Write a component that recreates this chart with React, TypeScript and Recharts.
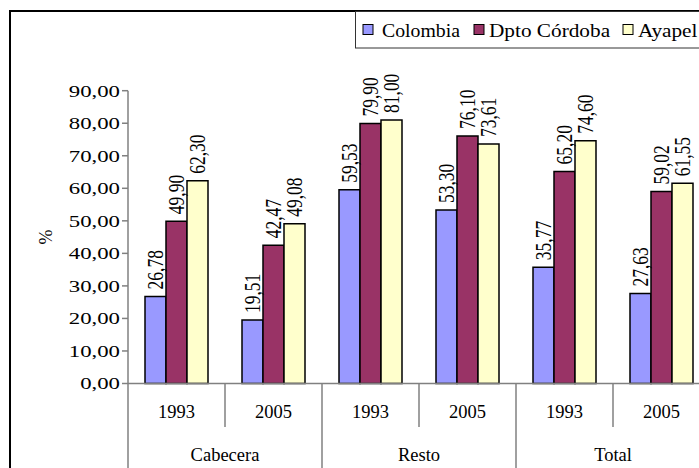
import React from 'react'
import { BarChart, Bar, XAxis, YAxis, Legend, LabelList, Label } from 'recharts'

const years = ['1993', '2005', '1993', '2005', '1993', '2005']
const zones = ['Cabecera', 'Cabecera', 'Resto', 'Resto', 'Total', 'Total']
const colombia = [26.78, 19.51, 59.53, 53.3, 35.77, 27.63]
const cordoba = [49.9, 42.47, 79.9, 76.1, 65.2, 59.02]
const ayapel = [62.3, 49.08, 81.0, 73.61, 74.6, 61.55]
const yTicks = [0, 10, 20, 30, 40, 50, 60, 70, 80, 90]

const series = [
  { key: 'colombia', name: 'Colombia', color: '#9999FF' },
  { key: 'cordoba', name: 'Dpto Córdoba', color: '#993366' },
  { key: 'ayapel', name: 'Ayapel', color: '#FFFFCC' },
]

const data = years.map((year, i) => ({
  year,
  zone: zones[i],
  colombia: colombia[i],
  cordoba: cordoba[i],
  ayapel: ayapel[i],
}))

const FONT = '"Liberation Serif", "Times New Roman", serif'
const fmt = (v: number) => v.toFixed(2).replace('.', ',')
const BAND = 97
const AXIS_GREY = '#808080'

function YTick(props: any) {
  const { x, y, payload } = props
  return (
    <text
      transform={`translate(${x},${y}) scale(1.38,1)`}
      textAnchor="end"
      dominantBaseline="central"
      fontFamily={FONT}
      fontSize={16.5}
      fill="#000"
    >
      {fmt(payload.value)}
    </text>
  )
}

function XTick(props: any) {
  const { x, payload, index } = props
  const i = payload?.index ?? index
  const axisY = 383.5
  const left = x - BAND / 2
  const even = i % 2 === 0
  return (
    <g>
      <line x1={left} x2={left} y1={axisY} y2={even ? 520 : 427} stroke={AXIS_GREY} strokeWidth={1.5} />
      <text x={x} y={412} textAnchor="middle" dominantBaseline="central" fontFamily={FONT} fontSize={18.5} fill="#000">
        {payload.value}
      </text>
      {even && (
        <text x={x + BAND / 2} y={455} textAnchor="middle" dominantBaseline="central" fontFamily={FONT} fontSize={18.5} fill="#000">
          {zones[i]}
        </text>
      )}
    </g>
  )
}

function BarValue(props: any) {
  const { x, y, width, value } = props
  const cx = x + width / 2
  return (
    <text
      transform={`translate(${cx},${y - 7}) rotate(-90) scale(1,1.3)`}
      textAnchor="start"
      dominantBaseline="central"
      fontFamily={FONT}
      fontSize={17.5}
      fill="#000"
    >
      {fmt(value)}
    </text>
  )
}

function LegendBox() {
  const items = [
    { name: series[0].name, sq: 363, tx: 382, sx: 1.04 },
    { name: series[1].name, sq: 474, tx: 489, sx: 1.12 },
    { name: series[2].name, sq: 623, tx: 638, sx: 1.12 },
  ]
  return (
    <svg width={400} height={40} style={{ display: 'block' }}>
      <rect x={0.5} y={0.5} width={398} height={36.5} fill="#fff" stroke="#333" strokeWidth={1} />
      {items.map((it, k) => (
        <g key={it.name}>
          <rect x={it.sq - 355} y={13.5} width={10} height={10} fill={series[k].color} stroke="#000" strokeWidth={1} />
          <text
            transform={`translate(${it.tx - 355},26) scale(${it.sx},1)`}
            fontFamily={FONT}
            fontSize={19}
            fill="#000"
          >
            {it.name}
          </text>
        </g>
      ))}
    </svg>
  )
}

export default function App() {
  return (
    <div style={{ position: 'fixed', left: 0, top: 0, width: 699, height: 468, overflow: 'hidden', background: '#fff' }}>
      <div
        style={{
          position: 'absolute',
          left: 9,
          top: 10,
          width: 800,
          height: 600,
          border: '2px solid #000',
          boxSizing: 'border-box',
        }}
      />
      <div style={{ position: 'absolute', left: 0, top: 0 }}>
        <BarChart
          width={740}
          height={520}
          data={data}
          margin={{ top: 90.7, right: 30, bottom: 0, left: 0 }}
          barCategoryGap={17}
          barGap={0}
        >
          <XAxis
            dataKey="year"
            height={136.5}
            stroke={AXIS_GREY}
            strokeWidth={1.5}
            tickLine={false}
            tick={<XTick />}
            interval={0}
          />
          <YAxis
            width={128}
            domain={[0, 90]}
            ticks={yTicks}
            interval={0}
            stroke={AXIS_GREY}
            strokeWidth={1.5}
            tickSize={6}
            tickMargin={2}
            tick={<YTick />}
          >
            <Label
              content={() => (
                <text
                  transform="translate(46,237) rotate(-90)"
                  textAnchor="middle"
                  dominantBaseline="central"
                  fontFamily={FONT}
                  fontSize={18}
                  fill="#000"
                >
                  %
                </text>
              )}
            />
          </YAxis>
          <Legend
            layout="horizontal"
            verticalAlign="middle"
            content={() => <LegendBox />}
            wrapperStyle={{ position: 'absolute', left: 355, top: 11, width: 400 }}
          />
          {series.map(s => (
            <Bar
              key={s.key}
              dataKey={s.key}
              name={s.name}
              fill={s.color}
              stroke="#000"
              strokeWidth={1.5}
              isAnimationActive={false}
            >
              <LabelList dataKey={s.key} content={<BarValue />} />
            </Bar>
          ))}
        </BarChart>
      </div>
    </div>
  )
}
